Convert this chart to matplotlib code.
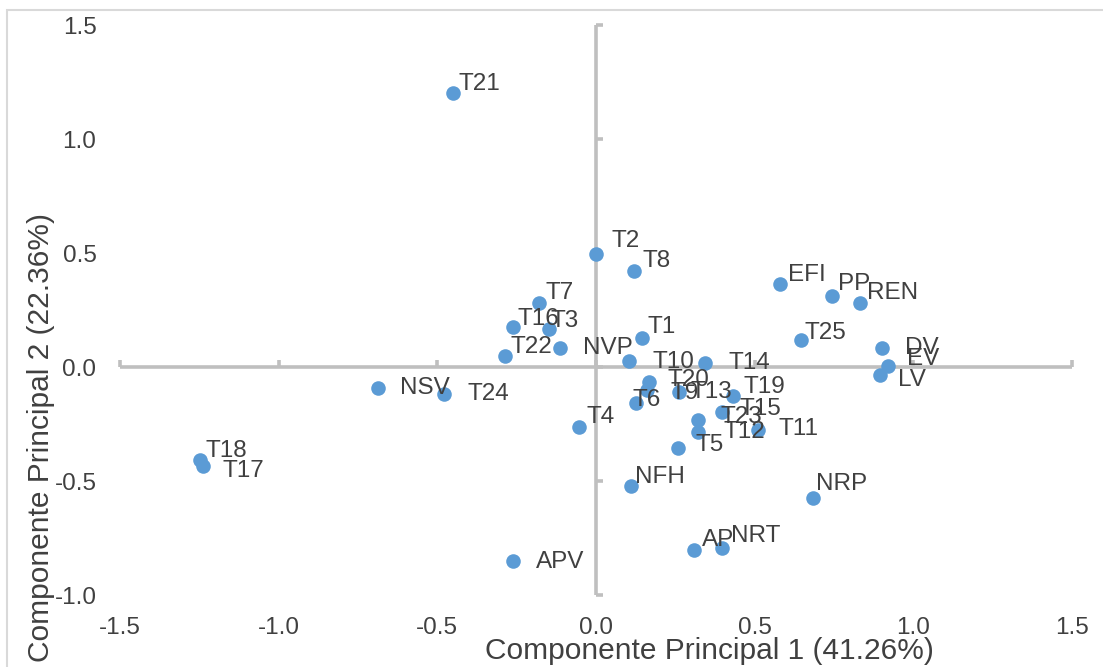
import matplotlib.pyplot as plt
from matplotlib.patches import Rectangle

# Datos (PCA): etiquetas, componente 1, componente 2
etiquetas = ['T21', 'T2', 'T8', 'EFI', 'PP', 'REN', 'T25', 'DV', 'EV', 'LV',
             'T7', 'T16', 'T3', 'T1', 'T22', 'NVP', 'T10', 'T14', 'T4', 'NSV',
             'T24', 'T18', 'T17', 'T20', 'T9', 'T13', 'T19', 'T6', 'T15', 'T23',
             'T12', 'T11', 'T5', 'NFH', 'NRP', 'AP', 'NRT', 'APV']
cp1 = [-0.450, 0.000, 0.121, 0.581, 0.744, 0.831, 0.646, 0.901, 0.920, 0.894,
       -0.179, -0.262, -0.149, 0.144, -0.286, -0.112, 0.103, 0.342, -0.054, -0.688,
       -0.480, -1.249, -1.237, 0.166, 0.161, 0.260, 0.432, 0.127, 0.397, 0.323,
       0.320, 0.511, 0.257, 0.111, 0.683, 0.309, 0.396, -0.260]
cp2 = [1.200, 0.494, 0.421, 0.366, 0.310, 0.282, 0.120, 0.083, 0.004, -0.036,
       0.281, 0.175, 0.165, 0.129, 0.047, 0.085, 0.026, 0.018, -0.263, -0.092,
       -0.117, -0.409, -0.435, -0.066, -0.099, -0.110, -0.129, -0.158, -0.197, -0.234,
       -0.285, -0.275, -0.354, -0.523, -0.575, -0.801, -0.792, -0.852]

# desplazamiento de cada etiqueta (pixeles)
desp = [(5, 9), (16, 13), (8, 10), (8, 9), (6, 12), (7, 10), (4, 7), (23, 0), (19, 7), (18, -5),
        (6, 10), (5, 8), (2, 8), (6, 11), (5, 9), (23, 0), (24, -1), (24, 0), (8, 10), (22, 0),
        (24, 0), (6, 9), (19, -5), (19, 2), (23, -3), (12, 0), (10, 9), (-4, 3), (18, 3), (22, 3),
        (26, 0), (20, 1), (18, 3), (4, 9), (3, 14), (8, 10), (9, 12), (22, -1)]

ticks_x = [-1.5, -1.0, -0.5, 0.0, 0.5, 1.0, 1.5]
ticks_y = [-1.0, -0.5, 0.0, 0.5, 1.0, 1.5]

plt.rcParams['font.family'] = ['Liberation Sans', 'DejaVu Sans']
texto = '#404040'
gris = '#bfbfbf'

fig = plt.figure(figsize=(11.03, 6.67), dpi=100)
pos = [120 / 1103, 1 - 595 / 667, 952 / 1103, 570 / 667]

# Ejes con etiquetas en los bordes
ax = fig.add_axes(pos)
ax.set_xlim(-1.5, 1.5)
ax.set_ylim(-1.0, 1.5)
ax.set_xticks(ticks_x)
ax.set_yticks(ticks_y)
ax.set_xticklabels([f'{t:.1f}' for t in ticks_x])
ax.set_yticklabels([f'{t:.1f}' for t in ticks_y])
for s in ax.spines.values():
    s.set_visible(False)
ax.tick_params(length=0, labelsize=17.5, labelcolor=texto)
ax.tick_params(axis='y', pad=17)
ax.tick_params(axis='x', pad=16)
ax.patch.set_alpha(0)

# Ejes cruzando en cero
ax2 = fig.add_axes(pos, sharex=ax, sharey=ax)
ax2.patch.set_alpha(0)
ax2.spines['left'].set_position(('data', 0))
ax2.spines['bottom'].set_position(('data', 0))
ax2.spines['top'].set_visible(False)
ax2.spines['right'].set_visible(False)
for k in ['left', 'bottom']:
    ax2.spines[k].set_color(gris)
    ax2.spines[k].set_linewidth(2.6)
    ax2.spines[k].set_capstyle('butt')
ax2.tick_params(direction='in', length=5, width=2.6, color=gris,
                labelleft=False, labelbottom=False)

# Puntos
ax2.scatter(cp1, cp2, s=110, color='#5B9BD5', zorder=3, linewidths=0)
for et, x, y, d in zip(etiquetas, cp1, cp2, desp):
    ax2.annotate(et, (x, y), xytext=d, textcoords='offset pixels',
                 ha='left', va='center', fontsize=17.5, color=texto, zorder=4)

# Titulos de ejes
fig.text(709 / 1103, 1 - 651 / 667, 'Componente Principal 1 (41.26%)',
         ha='center', va='center', fontsize=21.5, color=texto)
fig.text(41 / 1103, 1 - 437 / 667, 'Componente Principal 2 (22.36%)',
         ha='center', va='center', rotation=90, fontsize=21.5, color=texto)

# Borde del grafico
fig.patches.append(Rectangle((7 / 1103, -0.1), 1.2, 1.1 - 10 / 667 + 0.0,
                             transform=fig.transFigure, fill=False,
                             edgecolor='#d9d9d9', linewidth=1.5))

plt.savefig('out.png', dpi=100)
